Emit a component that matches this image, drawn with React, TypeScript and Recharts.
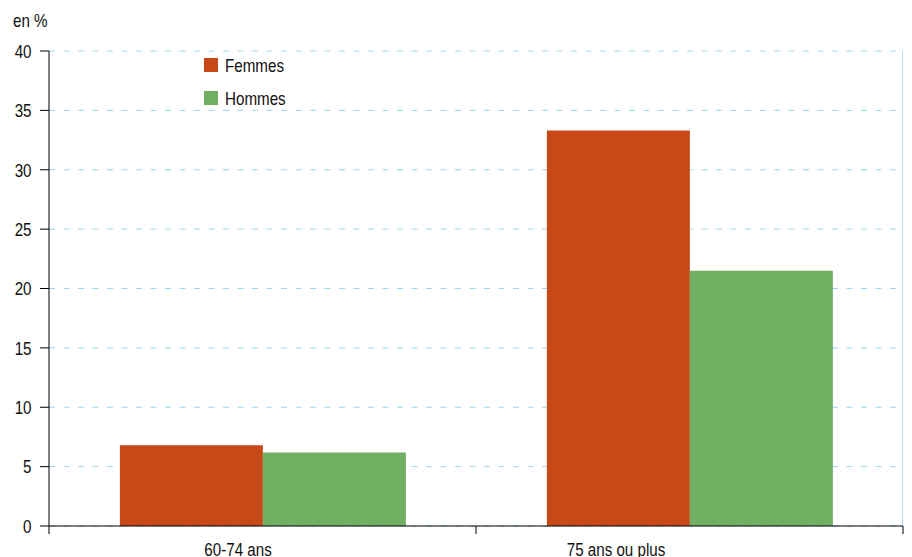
import React from "react";
import { BarChart, Bar, XAxis, YAxis, CartesianGrid } from "recharts";

const categories = ["60-74 ans", "75 ans ou plus"];
const femmes = [6.8, 33.3];
const hommes = [6.2, 21.5];
const yTicks = [0, 5, 10, 15, 20, 25, 30, 35, 40];
const seriesNames = ["Femmes", "Hommes"];

const COLORS = ["#C84918", "#71B063"];
const FONT = "'Liberation Sans', Arial, sans-serif";
const FS = 18.5;
const SX = 0.82;

const data = categories.map((c, i) => ({ cat: c, Femmes: femmes[i], Hommes: hommes[i] }));

const W = 912;
const H = 557;
const LEFT = 49;
const RIGHT_M = 9;
const BAND = (W - LEFT - RIGHT_M) / categories.length;
const labelOffsets = [-24.5, -73.5];

const XTick = (props: any) => {
  const { x, payload, index } = props;
  return (
    <g>
      <line x1={x - BAND / 2} x2={x - BAND / 2} y1={526} y2={534} stroke="#000" strokeWidth={1} />
      {index === categories.length - 1 && (
        <line x1={x + BAND / 2} x2={x + BAND / 2} y1={526} y2={534} stroke="#000" strokeWidth={1} />
      )}
      <text
        transform={`translate(${x + labelOffsets[index]}, 555.5) scale(${SX}, 1)`}
        textAnchor="middle"
        fontSize={FS}
        fontFamily={FONT}
        fill="#111"
      >
        {payload.value}
      </text>
    </g>
  );
};

const YTick = (props: any) => {
  const { y, payload } = props;
  return (
    <text
      transform={`translate(31.5, ${y + 6.8}) scale(${SX}, 1)`}
      textAnchor="end"
      fontSize={FS}
      fontFamily={FONT}
      fill="#111"
    >
      {payload.value}
    </text>
  );
};

const textStyle: React.CSSProperties = {
  position: "absolute",
  fontFamily: FONT,
  fontSize: FS,
  lineHeight: 1,
  color: "#111",
  transform: `scaleX(${SX})`,
  transformOrigin: "left top",
  whiteSpace: "nowrap",
};

export default function App() {
  return (
    <div style={{ position: "absolute", left: 0, top: 0, width: W, height: H, background: "#fff" }}>
      <div style={{ ...textStyle, left: 13, top: 12.3 }}>en %</div>
      <BarChart
        width={W}
        height={H}
        data={data}
        margin={{ top: 51, right: RIGHT_M, bottom: 0, left: 0 }}
        barGap={0}
        barCategoryGap="16.6%"
      >
        <CartesianGrid horizontal vertical={false} stroke="#9FD5F0" strokeDasharray="6 8.5" />
        <CartesianGrid
          horizontal={false}
          vertical
          stroke="#B5DEF3"
          verticalCoordinatesGenerator={({ offset }: any) => [offset.left + offset.width - 0.5]}
        />
        <XAxis
          dataKey="cat"
          height={31}
          axisLine={{ stroke: "#000" }}
          tickLine={false}
          tick={<XTick />}
          interval={0}
        />
        <YAxis
          width={LEFT}
          domain={[0, 40]}
          ticks={yTicks}
          tickSize={9}
          tickMargin={8}
          axisLine={{ stroke: "#000" }}
          tickLine={{ stroke: "#000" }}
          tick={<YTick />}
        />
        <Bar dataKey="Femmes" fill={COLORS[0]} isAnimationActive={false} />
        <Bar dataKey="Hommes" fill={COLORS[1]} isAnimationActive={false} />
      </BarChart>
      {seriesNames.map((n, i) => (
        <React.Fragment key={n}>
          <div
            style={{
              position: "absolute",
              left: 204,
              top: 58 + i * 32.5,
              width: 14,
              height: 14,
              background: COLORS[i],
            }}
          />
          <div style={{ ...textStyle, left: 225, top: 56.8 + i * 33 }}>{n}</div>
        </React.Fragment>
      ))}
    </div>
  );
}
